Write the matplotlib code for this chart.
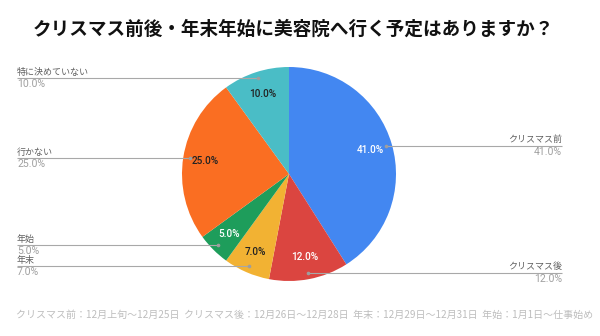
import matplotlib.pyplot as plt
import numpy as np

plt.rcParams['font.family'] = ['Noto Sans CJK JP', 'DejaVu Sans']

# 回答の内訳（時計回り、12時の位置から）
labels = ['クリスマス前', 'クリスマス後', '年末', '年始', '行かない', '特に決めていない']
shares = [41.0, 12.0, 7.0, 5.0, 25.0, 10.0]
colors = ['#4387F1', '#DB4540', '#F2B233', '#1E9D5B', '#FA6E22', '#4ABDC6']
pct_colors = ['white', 'white', '#222222', 'white', '#222222', '#222222']
# ラベルを左右どちらに出すか
sides = ['right', 'right', 'left', 'left', 'left', 'left']

title = 'クリスマス前後・年末年始に美容院へ行く予定はありますか？'
note = ('クリスマス前：12月上旬〜12月25日  クリスマス後：12月26日〜12月28日  '
        '年末：12月29日〜12月31日  年始：1月1日〜仕事始め')

W, H = 600, 336
fig = plt.figure(figsize=(W / 100, H / 100), dpi=100)
fig.patch.set_facecolor('white')

cx, cy, r = 289, 162, 107
ax = fig.add_axes([(cx - r) / W, (cy - r) / H, 2 * r / W, 2 * r / H])
wedges, _ = ax.pie(shares, colors=colors, startangle=90, counterclock=False,
                   radius=1.0, wedgeprops=dict(linewidth=0))
ax.set_xlim(-1, 1)
ax.set_ylim(-1, 1)
ax.set_aspect('equal')
ax.axis('off')

px = 1.0 / r  # 1ピクセル分のデータ座標
left_x = (17 - cx) * px
right_x = (562 - cx) * px

for w, lab, val, pc, side in zip(wedges, labels, shares, pct_colors, sides):
    mid = np.deg2rad((w.theta1 + w.theta2) / 2)
    # 扇形内のパーセント表示
    ax.text(0.79 * np.cos(mid), 0.79 * np.sin(mid), f'{val:.1f}%',
            ha='center', va='center', color=pc, fontsize=7.2,
            family=['Roboto', 'DejaVu Sans'], fontweight='medium')
    # 引き出し線
    dx, dy = 0.94 * np.cos(mid), 0.94 * np.sin(mid)
    end_x = right_x if side == 'right' else left_x
    ax.plot([dx, end_x], [dy, dy], color='#a8a8a8', lw=0.8,
            clip_on=False, solid_capstyle='butt')
    ax.plot(dx, dy, 'o', ms=1.6, color='#9e9e9e', clip_on=False)
    ha = 'right' if side == 'right' else 'left'
    ax.text(end_x, dy + 1.5 * px, lab, ha=ha, va='bottom', fontsize=6.5,
            color='#5f5f5f')
    ax.text(end_x, dy - 1.0 * px, f'{val:.1f}%', ha=ha, va='top',
            fontsize=7.6, color='#a0a0a0', family=['Roboto', 'DejaVu Sans'])

fig.text(33 / W, 1 - 29 / H, title, ha='left', va='center', fontsize=13.4,
         fontweight='bold', color='#111111')
fig.text(16 / W, 1 - 315 / H, note, ha='left', va='center', fontsize=7.2,
         color='#bdbdbd')

fig.savefig('out.png', dpi=100, facecolor='white')
